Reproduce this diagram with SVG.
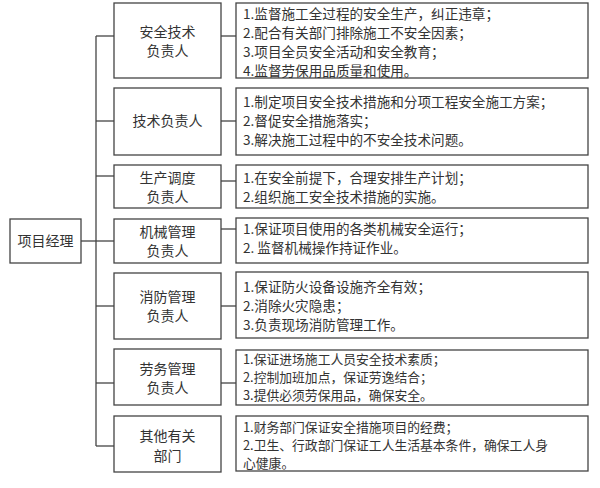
<svg xmlns="http://www.w3.org/2000/svg" width="600" height="488" viewBox="0 0 600 488">
<style>
rect{fill:#fff;stroke:#444;stroke-width:1.3}
line{stroke:#444;stroke-width:1.3}
text{font-family:"Noto Sans CJK SC","Noto Sans",sans-serif;font-size:13.6px;fill:#333}
.c{text-anchor:middle;font-size:14px}
.s{font-size:12.8px}
</style>
<rect x="0" y="0" width="600" height="488" style="fill:#fff;stroke:none"/>
<g id="connectors">
<line x1="81" y1="241" x2="96" y2="241"/>
<line x1="96" y1="36" x2="96" y2="446"/>
<line x1="96" y1="36" x2="114" y2="36"/><line x1="221" y1="36" x2="236" y2="36"/>
<line x1="96" y1="121" x2="114" y2="121"/><line x1="221" y1="121" x2="236" y2="121"/>
<line x1="96" y1="176" x2="114" y2="176"/><line x1="221" y1="181" x2="236" y2="181"/>
<line x1="96" y1="241" x2="114" y2="241"/><line x1="221" y1="229" x2="236" y2="229"/>
<line x1="96" y1="306" x2="114" y2="306"/><line x1="221" y1="306" x2="236" y2="306"/>
<line x1="96" y1="383" x2="114" y2="383"/><line x1="221" y1="383" x2="236" y2="383"/>
<line x1="96" y1="446" x2="114" y2="446"/>
</g>
<g id="root"><rect x="10" y="219" width="71" height="44"/><text class="c" x="45.5" y="246">项目经理</text></g>
<g id="n1"><rect x="114" y="3" width="107" height="75"/><text class="c" x="167.5" y="37">安全技术</text><text class="c" x="167.5" y="56">负责人</text></g>
<g id="d1"><rect x="236" y="3" width="352" height="75"/><text x="243" y="19">1.监督施工全过程的安全生产，纠正违章；</text><text x="243" y="38">2.配合有关部门排除施工不安全因素；</text><text x="243" y="57">3.项目全员安全活动和安全教育；</text><text x="243" y="76">4.监督劳保用品质量和使用。</text></g>
<g id="n2"><rect x="114" y="88" width="107" height="67"/><text class="c" x="167.5" y="126">技术负责人</text></g>
<g id="d2"><rect x="236" y="88" width="352" height="67"/><text x="243" y="107">1.制定项目安全技术措施和分项工程安全施工方案；</text><text x="243" y="126">2.督促安全措施落实；</text><text x="243" y="145">3.解决施工过程中的不安全技术问题。</text></g>
<g id="n3"><rect x="114" y="165" width="107" height="43"/><text class="c" x="167.5" y="183">生产调度</text><text class="c" x="167.5" y="202">负责人</text></g>
<g id="d3"><rect x="236" y="165" width="352" height="43"/><text x="243" y="183">1.在安全前提下，合理安排生产计划；</text><text x="243" y="202">2.组织施工安全技术措施的实施。</text></g>
<g id="n4"><rect x="114" y="219" width="107" height="44"/><text class="c" x="167.5" y="237">机械管理</text><text class="c" x="167.5" y="256">负责人</text></g>
<g id="d4"><rect x="236" y="218" width="352" height="45"/><text x="243" y="234">1.保证项目使用的各类机械安全运行；</text><text x="243" y="253">2. 监督机械操作持证作业。</text></g>
<g id="n5"><rect x="114" y="273" width="107" height="66"/><text class="c" x="167.5" y="302">消防管理</text><text class="c" x="167.5" y="321">负责人</text></g>
<g id="d5"><rect x="236" y="272" width="352" height="66"/><text x="243" y="292">1.保证防火设备设施齐全有效；</text><text x="243" y="311">2.消除火灾隐患；</text><text x="243" y="330">3.负责现场消防管理工作。</text></g>
<g id="n6"><rect x="114" y="349" width="107" height="56"/><text class="c" x="167.5" y="374">劳务管理</text><text class="c" x="167.5" y="393">负责人</text></g>
<g id="d6"><rect x="236" y="350" width="352" height="55"/><text class="s" x="243" y="364">1.保证进场施工人员安全技术素质；</text><text class="s" x="243" y="382">2.控制加班加点，保证劳逸结合；</text><text class="s" x="243" y="400">3.提供必须劳保用品，确保安全。</text></g>
<g id="n7"><rect x="114" y="416" width="107" height="56"/><text class="c" x="167.5" y="441">其他有关</text><text class="c" x="167.5" y="461">部门</text></g>
<g id="d7"><rect x="236" y="416" width="352" height="55"/><text class="s" x="243" y="432">1.财务部门保证安全措施项目的经费；</text><text class="s" x="243" y="450">2.卫生、行政部门保证工人生活基本条件，确保工人身</text><text class="s" x="243" y="468">心健康。</text></g>
</svg>
